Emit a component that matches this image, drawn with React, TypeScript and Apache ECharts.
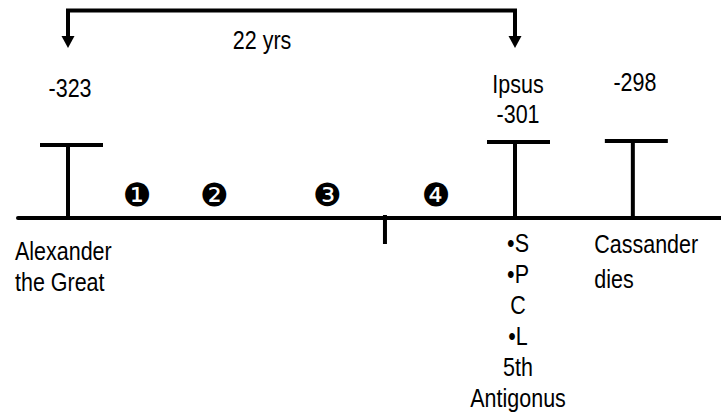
import React, { useEffect, useRef } from "react";
import * as echarts from "echarts";

// ---- data ----
const eventYears = ["-323", "-301", "-298"];
const eventPositions = [-323, -301, -295.2]; // schematic place on the time line
const barHeights = [73, 76, 77];
const eventNames = ["Alexander\nthe Great", "•S\n•P\nC\n•L\n5th\nAntigonus", "Cassander\ndies"];
const ipsusTitle = "Ipsus";
const stepMarks = ["❶", "❷", "❸", "❹"];
const stepPositions = [-319.6, -315.8, -310.25, -304.9];
const midTickPosition = -307.4;
const spanStart = -323;
const spanEnd = -301;
const spanLabel = "22 yrs";

const FONT = "'Liberation Sans', Arial, sans-serif";

export default function App() {
  const ref = useRef<HTMLDivElement>(null);
  useEffect(() => {
    document.body.style.margin = "0";
    const chart = echarts.init(ref.current!, null, { renderer: "svg" });

    // text annotations: [x, y, text, align, lineHeight]
    const texts: any[] = [
      [-322.9, 130, eventYears[0], "center", 30],
      [-300.85, 134, ipsusTitle, "center", 30],
      [-300.85, 104, eventYears[1], "center", 30],
      [-295.1, 135.5, eventYears[2], "center", 30],
      [-313.45, 178, spanLabel, "center", 30],
      [-325.61, -48.75, eventNames[0], "left", 31.5],
      [-300.85, -103, eventNames[1], "center", 31],
      [-297.1, -43.75, eventNames[2], "left", 35.5],
    ];

    const option: any = {
      animation: false,
      grid: { left: 18, right: 0, top: 0, bottom: 0, containLabel: false },
      xAxis: {
        type: "value",
        min: -325.461,
        max: -290.861,
        axisLine: { show: true, onZero: true, lineStyle: { color: "#000", width: 4 } },
        axisTick: { show: false },
        axisLabel: { show: false },
        splitLine: { show: false },
      },
      yAxis: {
        type: "value",
        min: -196,
        max: 218,
        axisLine: { show: false },
        axisTick: { show: false },
        axisLabel: { show: false },
        splitLine: { show: false },
      },
      series: [
        {
          type: "custom",
          data: eventPositions.map((p, i) => [p, barHeights[i]]),
          renderItem: (params: any, api: any) => {
            const base = api.coord([api.value(0), 0]);
            const top = api.coord([api.value(0), api.value(1)]);
            return {
              type: "group",
              children: [
                { type: "line", shape: { x1: base[0], y1: base[1] + 2, x2: top[0], y2: top[1] }, style: { stroke: "#000", lineWidth: 4 } },
                { type: "line", shape: { x1: top[0] - 28, y1: top[1], x2: top[0] + 35, y2: top[1] }, style: { stroke: "#000", lineWidth: 4 } },
              ],
            };
          },
        },
        {
          type: "custom",
          data: [[midTickPosition, -26]],
          renderItem: (params: any, api: any) => {
            const a = api.coord([api.value(0), 3]);
            const b = api.coord([api.value(0), api.value(1)]);
            return { type: "line", shape: { x1: a[0], y1: a[1], x2: b[0], y2: b[1] }, style: { stroke: "#000", lineWidth: 4 } };
          },
        },
        {
          type: "custom",
          data: [[spanStart, spanEnd]],
          renderItem: (params: any, api: any) => {
            const l = api.coord([api.value(0), 207.5]);
            const r = api.coord([api.value(1), 207.5]);
            const lb = api.coord([api.value(0), 182]);
            const rb = api.coord([api.value(1), 182]);
            const tipL = api.coord([api.value(0), 170]);
            const tipR = api.coord([api.value(1), 170]);
            const head = (tip: number[]) => ({
              type: "polygon",
              shape: { points: [[tip[0] - 6.5, tip[1] - 12], [tip[0] + 6.5, tip[1] - 12], [tip[0], tip[1]]] },
              style: { fill: "#000" },
            });
            return {
              type: "group",
              children: [
                {
                  type: "polyline",
                  shape: { points: [[lb[0], lb[1]], [l[0], l[1]], [r[0], r[1]], [rb[0], rb[1]]] },
                  style: { stroke: "#000", lineWidth: 4, fill: "none", lineJoin: "miter" },
                },
                head(tipL),
                head(tipR),
              ],
            };
          },
        },
        {
          type: "custom",
          data: stepPositions.map((p, i) => [p, 23, stepMarks[i]]),
          renderItem: (params: any, api: any) => {
            const c = api.coord([api.value(0), api.value(1)]);
            return {
              type: "text",
              x: c[0],
              y: c[1],
              style: { text: stepMarks[params.dataIndex], fontFamily: "'DejaVu Sans'", fontSize: 32, fill: "#000", align: "center", verticalAlign: "middle" },
            };
          },
        },
        {
          type: "custom",
          data: texts.map((t) => [t[0], t[1]]),
          renderItem: (params: any, api: any) => {
            const t = texts[params.dataIndex];
            const c = api.coord([api.value(0), api.value(1)]);
            return {
              type: "text",
              x: c[0],
              y: c[1],
              scaleX: 0.86,
              style: { text: t[2], fontFamily: FONT, fontSize: 25, fill: "#000", align: t[3], verticalAlign: "middle", lineHeight: t[4] },
            };
          },
        },
      ],
    };
    chart.setOption(option);
    return () => chart.dispose();
  }, []);
  return <div ref={ref} style={{ position: "fixed", left: 0, top: 0, width: 721, height: 414, background: "#fff" }} />;
}
